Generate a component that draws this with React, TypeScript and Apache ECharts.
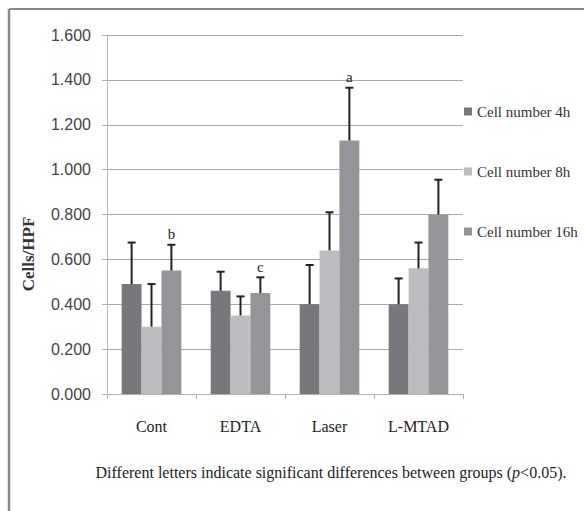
import React, { useEffect, useRef } from "react";
import * as echarts from "echarts";

const categories = ["Cont", "EDTA", "Laser", "L-MTAD"];
const seriesNames = ["Cell number 4h", "Cell number 8h", "Cell number 16h"];
const values4h = [0.49, 0.46, 0.4, 0.4];
const values8h = [0.3, 0.35, 0.64, 0.56];
const values16h = [0.55, 0.45, 1.13, 0.8];
const errTop4h = [0.675, 0.545, 0.575, 0.515];
const errTop8h = [0.49, 0.435, 0.81, 0.675];
const errTop16h = [0.665, 0.52, 1.365, 0.955];
const letters16h = ["b", "c", "a", ""];
const yTicks = [0, 0.2, 0.4, 0.6, 0.8, 1.0, 1.2, 1.4, 1.6];
const colors = ["#77787c", "#bcbdc0", "#949599"];

export default function App() {
  const ref = useRef<HTMLDivElement>(null);
  useEffect(() => {
    if (!ref.current) return;
    const chart = echarts.init(ref.current, null, { renderer: "svg" });
    const values = [values4h, values8h, values16h];
    const errs = [errTop4h, errTop8h, errTop16h];
    const errData: any[] = [];
    for (let s = 0; s < 3; s++) {
      for (let c = 0; c < categories.length; c++) {
        errData.push([c, values[s][c], errs[s][c], s, s === 2 ? letters16h[c] : ""]);
      }
    }
    const gapRatio = 0.33;
    chart.setOption({
      animation: false,
      color: colors,
      grid: { left: 107, right: 121, top: 35, bottom: 117 },
      legend: {
        orient: "vertical",
        left: 459,
        top: 98,
        itemWidth: 8,
        itemHeight: 8,
        itemGap: 43,
        icon: "rect",
        data: seriesNames,
        textStyle: { fontFamily: "Liberation Serif", fontSize: 15, color: "#333", lineHeight: 17 },
      },
      xAxis: {
        type: "category",
        data: categories,
        axisLine: { lineStyle: { color: "#b0b0b0", width: 1 } },
        axisTick: { show: true, length: 5, lineStyle: { color: "#b0b0b0" } },
        axisLabel: { fontFamily: "Liberation Serif", fontSize: 16, color: "#222", margin: 24 },
      },
      yAxis: {
        type: "value",
        min: yTicks[0],
        max: yTicks[yTicks.length - 1],
        interval: 0.2,
        axisLine: { show: true, lineStyle: { color: "#b8b8b8", width: 1 } },
        axisTick: { show: true, length: 5, lineStyle: { color: "#b0b0b0" } },
        axisLabel: {
          fontFamily: "Liberation Sans",
          fontSize: 16,
          color: "#444",
          margin: 16,
          formatter: (v: number) => v.toFixed(3),
        },
        splitLine: { lineStyle: { color: "#a8a8a8", width: 1 } },
      },
      series: [
        ...seriesNames.map((name, i) => ({
          name,
          type: "bar",
          data: values[i],
          barGap: "0%",
          barCategoryGap: "33%",
          itemStyle: { color: colors[i] },
        })),
        {
          type: "custom",
          data: errData,
          encode: { x: 0, y: 2 },
          z: 10,
          silent: true,
          renderItem: (params: any, api: any) => {
            const c = api.value(0);
            const top = api.value(2);
            const s = api.value(3);
            const letter = errData[params.dataIndex][4];
            const catW = api.size([1, 0])[0];
            const barW = (catW * (1 - gapRatio)) / 3;
            const base = api.coord([c, api.value(1)]);
            const tp = api.coord([c, top]);
            const x = base[0] + (s - 1) * barW;
            const half = 4;
            const children: any[] = [
              { type: "line", shape: { x1: x, y1: base[1], x2: x, y2: tp[1] }, style: { stroke: "#222", lineWidth: 2 } },
              { type: "line", shape: { x1: x - half, y1: tp[1], x2: x + half, y2: tp[1] }, style: { stroke: "#222", lineWidth: 2 } },
            ];
            if (letter) {
              children.push({
                type: "text",
                style: {
                  text: letter,
                  x: x,
                  y: tp[1] - 3,
                  align: "center",
                  verticalAlign: "bottom",
                  font: "15px 'Liberation Serif'",
                  fill: "#222",
                },
              });
            }
            return { type: "group", children };
          },
        },
      ],
      graphic: [
        { type: "line", shape: { x1: 9, y1: 9, x2: 584, y2: 9 }, style: { stroke: "#888", lineWidth: 2 } },
        { type: "line", shape: { x1: 9, y1: 9, x2: 9, y2: 511 }, style: { stroke: "#888", lineWidth: 2.5 } },
        {
          type: "text",
          x: 28,
          y: 254,
          rotation: Math.PI / 2,
          style: {
            text: "Cells/HPF",
            align: "center",
            verticalAlign: "middle",
            font: "bold 17px 'Liberation Serif'",
            fill: "#333",
          },
        },
        {
          type: "text",
          x: 331,
          y: 472,
          style: {
            text: "{n|Different letters indicate significant differences between groups (}{i|p}{n|<0.05).}",
            align: "center",
            verticalAlign: "middle",
            rich: {
              n: { fontFamily: "Liberation Serif", fontSize: 16, fill: "#222" },
              i: { fontFamily: "Liberation Serif", fontSize: 16, fontStyle: "italic", fill: "#222" },
            },
          },
        },
      ],
    });
    return () => chart.dispose();
  }, []);
  return <div ref={ref} style={{ position: "fixed", left: 0, top: 0, width: 584, height: 511, background: "#fff" }} />;
}
